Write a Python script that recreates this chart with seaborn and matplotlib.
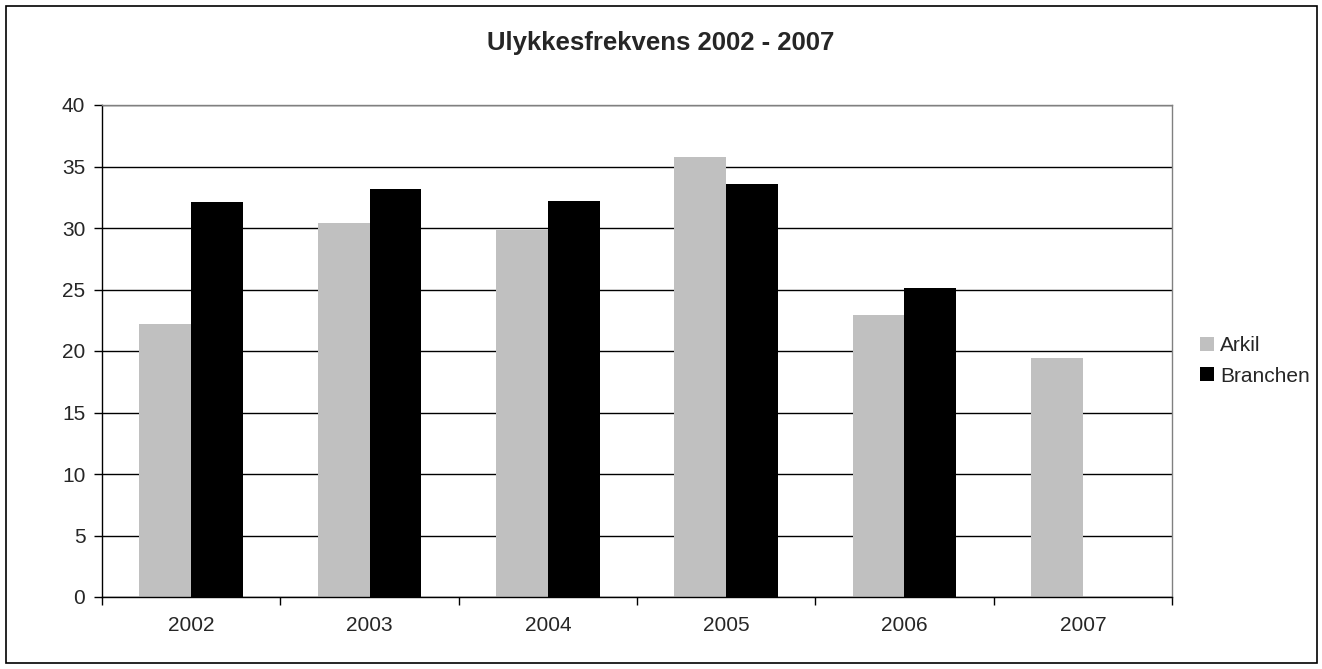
import pandas as pd
import numpy as np
import matplotlib
matplotlib.use('Agg')
import matplotlib.pyplot as plt
from matplotlib.patches import Rectangle
import seaborn as sns

# Data
years = ['2002', '2003', '2004', '2005', '2006', '2007']
arkil = [22.2, 30.4, 29.8, 35.8, 22.9, 19.4]
branchen = [32.1, 33.2, 32.2, 33.6, 25.1, np.nan]
series = ['Arkil', 'Branchen']
colors = ['#c0c0c0', '#000000']

df = pd.DataFrame({
    'year': years * 2,
    'value': arkil + branchen,
    'serie': [series[0]] * len(years) + [series[1]] * len(years),
})

sns.set_style('white')
plt.rcParams['font.family'] = ['Liberation Sans', 'DejaVu Sans']

fig = plt.figure(figsize=(13.22, 6.69), dpi=100)
ax = fig.add_axes([102 / 1322, 72 / 669, 1070 / 1322, 492 / 669])

sns.barplot(data=df, x='year', y='value', hue='serie', palette=colors,
            width=0.58, gap=0, saturation=1, linewidth=0, edgecolor='none',
            ax=ax, legend=True)

ax.set_xlim(-0.5, 5.5)
ax.set_ylim(0, 40)
ax.set_yticks(range(0, 41, 5))
ax.set_xlabel('')
ax.set_ylabel('')

# gridlines and plot area frame
ax.set_axisbelow(True)
ax.yaxis.grid(True, color='black', linewidth=1)
ax.xaxis.grid(False)
for side in ['left', 'bottom']:
    ax.spines[side].set_color('black')
    ax.spines[side].set_linewidth(1)
for side in ['top', 'right']:
    ax.spines[side].set_color('#808080')
    ax.spines[side].set_linewidth(1)

ax.tick_params(axis='y', direction='out', length=6, width=1, color='black',
               labelsize=15, pad=6, left=True)
ax.set_xticks(np.arange(-0.5, 6, 1), minor=True)
ax.tick_params(axis='x', which='minor', direction='out', length=6, width=1,
               color='black', bottom=True)
ax.tick_params(axis='x', which='major', length=0, labelsize=15, pad=14)

ax.legend(loc='center left', bbox_to_anchor=(1200 / 1322, 1 - 361 / 669),
          bbox_transform=fig.transFigure, frameon=False, fontsize=15,
          handlelength=0.65, handleheight=0.65, handletextpad=0.3,
          labelspacing=0.55, borderpad=0, borderaxespad=0)

fig.text(0.5, 1 - 43 / 669, 'Ulykkesfrekvens 2002 - 2007', ha='center',
         va='center', fontsize=18.5, fontweight='bold')

# outer chart border
fig.patches.append(Rectangle((6 / 1322, 6 / 669), 1311 / 1322, 657 / 669,
                             transform=fig.transFigure, fill=False,
                             edgecolor='black', linewidth=1.2))

fig.savefig('out.png', dpi=100, facecolor='white')
